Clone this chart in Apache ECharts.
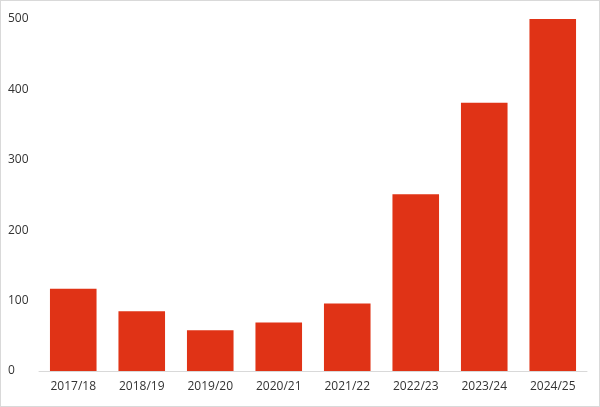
<!DOCTYPE html>
<html>
<head>
<meta charset="utf-8">
<script src="https://cdn.jsdelivr.net/npm/echarts@6/dist/echarts.min.js"></script>
<style>
  html, body { margin: 0; padding: 0; background: #fff; }
  #chart { width: 600px; height: 407px; box-sizing: border-box; border: 1px solid #d9d9d9; }
</style>
</head>
<body>
<div id="chart"></div>
<script>
// values
const seasons = ['2017/18', '2018/19', '2019/20', '2020/21', '2021/22', '2022/23', '2023/24', '2024/25'];
const values = [117, 85, 58, 69, 96, 251, 381, 500];
const yTicks = [0, 100, 200, 300, 400, 500];

const chart = echarts.init(document.getElementById('chart'), null, { renderer: 'canvas' });

chart.setOption({
  animation: false,
  textStyle: { fontFamily: 'Open Sans, sans-serif' },
  grid: { left: 38, right: 12, top: 18, bottom: 35 },
  xAxis: {
    type: 'category',
    data: seasons,
    axisTick: { show: false },
    axisLine: { lineStyle: { color: '#d9d9d9', width: 1 } },
    axisLabel: { color: '#333', fontSize: 12, margin: 10 }
  },
  yAxis: {
    type: 'value',
    min: yTicks[0],
    max: yTicks[yTicks.length - 1],
    interval: 100,
    splitLine: { show: false },
    axisLine: { show: false },
    axisTick: { show: false },
    axisLabel: { color: '#333', fontSize: 12, align: 'left', margin: 31 }
  },
  series: [{
    type: 'bar',
    data: values,
    barCategoryGap: '32%',
    itemStyle: { color: '#e03316' }
  }]
});
</script>
</body>
</html>
